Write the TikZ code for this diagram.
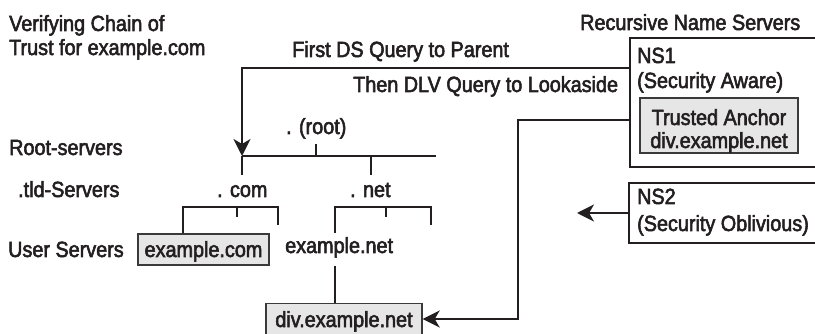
\documentclass[tikz,border=0pt]{standalone}
\usepackage{fontspec}
\setmainfont{Liberation Sans}[FakeStretch=0.9,FakeBold=2.5]
\usetikzlibrary{arrows.meta,calc}
\definecolor{ink}{HTML}{231F20}
\definecolor{boxfill}{HTML}{E6E6E6}
\definecolor{boxline}{HTML}{3A3A3A}
\begin{document}
\begin{tikzpicture}[x=1pt,y=-1pt,
  txt/.style={anchor=base west, inner sep=0pt, font=\fontsize{22}{24}\selectfont, text=ink},
  ctxt/.style={anchor=base, inner sep=0pt, font=\fontsize{22}{24}\selectfont, text=ink},
  nsbox/.style={draw=ink, line width=2pt, inner sep=0pt},
  graybox/.style={draw=boxline, fill=boxfill, line width=1.4pt, inner sep=0pt},
  flow/.style={draw=ink, line width=2.3pt, -{Stealth[length=17pt,width=17pt,inset=5pt]}},
  tree/.style={draw=ink, line width=1.5pt}]
\useasboundingbox (0,0) rectangle (815,334);
\fill[white] (0,0) rectangle (815,334);

% left labels
\node[txt] (v1) at (9,31) {Verifying Chain of};
\node[txt] (v2) at (9,55) {Trust for example.com};
\node[txt] (lroot) at (9,155) {Root-servers};
\node[txt] (ltld) at (18,197) {.tld-Servers};
\node[txt] (luser) at (8,257) {User Servers};

% query labels
\node[txt] (qds) at (292,57) {First DS Query to Parent};
\node[txt] (qdlv) at (353,92) {Then DLV Query to Lookaside};

% recursive name servers
\node[txt] (rns) at (580,30) {Recursive Name Servers};
\node[nsbox, minimum width=190pt, minimum height=129pt] (ns1) at (725,102.5) {};
\node[txt] (ns1a) at (637,63) {NS1};
\node[txt] (ns1b) at (637,88) {(Security Aware)};
\node[graybox, minimum width=158pt, minimum height=55pt] (ta) at (719,125.5) {};
\node[ctxt] (ta1) at (719,125) {Trusted Anchor};
\node[ctxt] (ta2) at (719,148) {div.example.net};

\node[nsbox, minimum width=190pt, minimum height=60pt] (ns2) at (724,213) {};
\node[txt] (ns2a) at (637,204) {NS2};
\node[txt] (ns2b) at (637,231) {(Security Oblivious)};

% tree
\node[txt] (root) at (286,134) {. (root)};
\node[txt] (com) at (217,197) {. com};
\node[txt] (net) at (350,197) {. net};
\node[graybox, minimum width=131pt, minimum height=31pt] (excom) at (203.5,249.5) {};
\node[ctxt] (excomt) at (203.5,257) {example.com};
\node[txt] (exnet) at (285,253) {example.net};
\node[graybox, minimum width=156pt, minimum height=31pt] (divnet) at (344,319) {};
\node[ctxt] (divnett) at (344,327) {div.example.net};

\coordinate (rootL) at (242,156);
\coordinate (rootR) at (436,156);
\coordinate (rootS) at (316,144);
\coordinate (comS) at (242,175);
\coordinate (netS) at (371,175);
\coordinate (comL) at (183,207);
\coordinate (comR) at (278,207);
\coordinate (netL) at (335,207);
\coordinate (netR) at (431,207);

\draw[tree] (rootL) -- (rootR);
\draw[tree] (rootS) -- (rootS |- rootL);
\draw[tree] (comS |- rootL) -- (comS);
\draw[tree] (netS |- rootL) -- (netS);

\draw[tree] (excom.north -| comL) |- (comR) -- ++(0,18);
\draw[tree] (237,207) -- (237,217);
\draw[tree] (netL |- 0,233) |- (netR) -- ++(0,18);
\draw[tree] (386,207) -- (386,217);
\draw[tree] (335,266) -- (divnet.north -| 335,0);

% flows
\coordinate (dsy) at (0,68);
\coordinate (dlvy) at (0,120);
\coordinate (dlvc) at (518,319);
\coordinate (ns2end) at (577,213);
\draw[flow] (ns1.west |- dsy) -| (rootL);
\draw[flow] (ns1.west |- dlvy) -| (dlvc) -- (divnet.east);
\draw[flow] (ns2.west) -- (ns2end);
\end{tikzpicture}
\end{document}
